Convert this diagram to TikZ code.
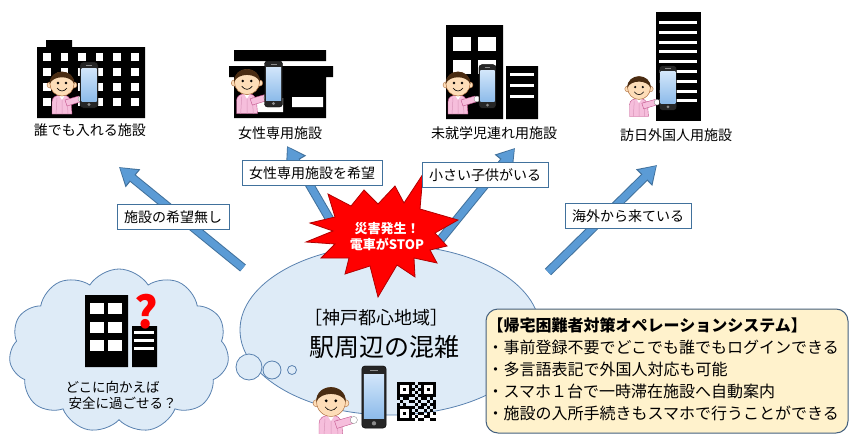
\documentclass[tikz,border=0pt]{standalone}
\usepackage{fontspec}
\setmainfont{Noto Sans CJK JP}
\usepackage{tikz}
\usetikzlibrary{positioning, shapes.geometric, shapes.symbols, arrows.meta, calc}

\definecolor{arrowblue}{HTML}{5B9BD5}
\definecolor{arrowline}{HTML}{41719C}
\definecolor{mist}{HTML}{DEEBF7}
\definecolor{mistline}{HTML}{5A82B0}
\definecolor{cream}{HTML}{FFF2CC}
\definecolor{creamline}{HTML}{44607E}
\definecolor{alarm}{HTML}{FF0000}
\definecolor{alarmline}{HTML}{B00000}
\definecolor{skin}{HTML}{FDDDB8}
\definecolor{skinline}{HTML}{B07040}
\definecolor{hair}{HTML}{4A2C12}
\definecolor{shirt}{HTML}{F6BEDC}
\definecolor{shirtline}{HTML}{C0508A}
\definecolor{screentop}{HTML}{D2E6FA}
\definecolor{screenbot}{HTML}{8DBBEA}

\tikzset{
  % little guide figure, origin at the centre of the head
  guide/.pic={
    \filldraw[fill=shirt, draw=shirtline, line width=.4pt]
      (-10,30) -- (-10,18) .. controls (-10,13) and (-6,11) .. (0,11)
      .. controls (5,11) and (8,13) .. (9,18) -- (10,30) -- cycle;
    \draw[shirtline!60, line width=.5pt] (-5,14) -- (-6,30) (0,13) -- (0,30) (5,14) -- (6,30);
    \fill[white] (-3,11) -- (3,11) -- (0,16) -- cycle;
    \filldraw[fill=shirt, draw=shirtline, line width=.4pt] (3,16) -- (17,12) -- (18,18) -- (5,22) -- cycle;
    \filldraw[fill=white, draw=black!50, line width=.3pt] (19,15) circle (3);
    \filldraw[fill=skin, draw=skinline, line width=.4pt] (-12,1) circle (3) (12,1) circle (3);
    \filldraw[fill=skin, draw=skinline, line width=.5pt] (0,0) circle (12);
    \fill[hair] (-12.3,0) .. controls (-13,-16.5) and (13,-16.5) .. (12.3,0)
      .. controls (9,-9) and (-9,-9) .. (-12.3,0) -- cycle;
    \fill (-4,-1) circle (1.3) (4,-1) circle (1.3);
    \draw[line width=.6pt] (-5,4) .. controls (-2,8) and (2,8) .. (5,4);
  },
  % smartphone, origin at its centre
  handset/.pic={
    \filldraw[fill=black!85, draw=black, rounded corners=3pt] (-9,-23) rectangle (9,23);
    \shade[top color=screentop, bottom color=screenbot] (-7.5,-17) rectangle (7.5,16);
    \fill[black!45] (0,19.5) circle (1.6);
    \draw[black!45, line width=.8pt] (-3,-20) -- (3,-20);
  }
}

\begin{document}
\begin{tikzpicture}[x=1pt, y=-1pt, >=Stealth,
    fat/.style={line width=7pt, draw=arrowblue, -{Triangle[length=15.5pt,width=18pt]}, shorten >=1.3pt,
      preaction={draw=arrowline, line width=9pt, -{Triangle[length=18pt,width=22pt]}, shorten >=0pt}},
    tag/.style={draw=arrowline, fill=white, line width=.8pt, font=\fontsize{14}{16}\selectfont,
      inner xsep=7pt, minimum height=25pt},
    place/.style={font=\fontsize{14}{16}\selectfont},
    bubble/.style={circle, draw=mistline, fill=mist, line width=.8pt, inner sep=0pt}]
  \useasboundingbox (0,0) rectangle (852,434);

  % arrows out of the crowd
  \coordinate (from-any) at (243,268);    \coordinate (to-any) at (119,167);
  \coordinate (from-women) at (343,242);  \coordinate (to-women) at (287,146);
  \coordinate (from-kids) at (428,255);   \coordinate (to-kids) at (515,148);
  \coordinate (from-abroad) at (548,272); \coordinate (to-abroad) at (657,165);
  \foreach \dest in {any, women, kids, abroad}
    \draw[fat] (from-\dest) -- (to-\dest);

  % crowd at the station and the worried cloud
  \node[ellipse, draw=mistline, fill=mist, line width=.8pt, minimum width=300pt, minimum height=170pt] (crowd) at (390,330) {};
  \node[cloud, cloud puffs=11, cloud puff arc=115, cloud ignores aspect, draw=mistline, fill=mist, line width=.8pt,
    minimum width=220pt, minimum height=164pt] (worry) at (119,351) {};
  \node[bubble, minimum size=26pt] (b1) at (249,367) {};
  \node[bubble, minimum size=18pt] (b2) at (272,370) {};
  \node[bubble, minimum size=9pt] (b3) at (292,370) {};

  % alarm burst
  \filldraw[fill=alarm, draw=alarmline, line width=.8pt]
    (310,223) -- (335,217) -- (328,194) -- (351,206) -- (364,190) -- (378,204) -- (395,186)
    -- (404,203) -- (423,174) -- (420,209) -- (458,220) -- (435,233) -- (447,246) -- (430,250)
    -- (437,263) -- (414,258) -- (415,277) -- (397,265) -- (378,297) -- (370,266) -- (345,274)
    -- (349,258) -- (321,258) -- (335,244) -- (306,242) -- (333,231) -- cycle;
  \node[align=center, text=white, font=\fontsize{13}{16}\selectfont\bfseries] (alert) at (387,237) {災害発生！\\電車がSTOP};

  % reasons
  \node[tag] (why-any) at (173,217) {施設の希望無し};
  \node[tag] (why-women) at (312,173) {女性専用施設を希望};
  \node[tag] (why-kids) at (485,175) {小さい子供がいる};
  \node[tag] (why-abroad) at (628,216) {海外から来ている};

  % open to anyone
  \fill (46,40) rectangle (72,48) (37,47) rectangle (145,118);
  \foreach \c in {0,...,5} \foreach \r in {0,...,3}
    \fill[white] (43+\c*17.6,53+\r*15) rectangle +(7.5,8);
  \node[place] (bld-any) at (90,130) {誰でも入れる施設};

  % women only
  \fill (234,50) rectangle (326,61) (229,66) rectangle (333,77) (234,77) rectangle (326,118);
  \fill[white] (243,98) rectangle (283,112) (292,97) rectangle (323,107);
  \node[place] (bld-women) at (280,133) {女性専用施設};

  % with small children
  \fill (446,25) rectangle (503,119) (506,66) rectangle (538,119);
  \foreach \c in {0,1} \foreach \r in {0,1}
    \fill[white] (453+\c*25,37+\r*23) rectangle +(18,14);
  \foreach \r in {0,1,2}
    \fill[white] (510,73+\r*11) rectangle +(24,3);
  \node[place] (bld-kids) at (494,133) {未就学児連れ用施設};

  % visitors from abroad
  \fill (656,12) rectangle (701,121);
  \foreach \r in {0,...,8}
    \fill[white] (659,21+\r*9.8) rectangle +(38,3);
  \node[place] (bld-abroad) at (676,135) {訪日外国人用施設};

  % guides with phones
  \pic at (62,84) {guide};              \pic at (89,85) {handset};
  \pic[scale=1.05] at (247,82) {guide}; \pic at (273.5,84) {handset};
  \pic at (458,84) {guide};             \pic[scale=.95] at (487.5,86.5) {handset};
  \pic[scale=.95] at (639,88) {guide};  \pic[scale=.97] at (668,88) {handset};
  \pic[scale=1.2] at (331,402) {guide}; \pic[scale=1.35] at (374,397) {handset};

  % where to go?
  \fill (85,295) rectangle (128,367) (132,326) rectangle (157,367);
  \foreach \c in {0,1} \foreach \r in {0,1,2}
    \fill[white] (90+\c*18,303+\r*18.5) rectangle +(13.5,11);
  \foreach \r in {0,1,2}
    \fill[white] (134,331+\r*8) rectangle +(20,2.5);
  \node[text=red, font=\fontsize{44}{44}\selectfont\bfseries] (what) at (146,312) {?};
  \node[anchor=west, font=\fontsize{13.5}{16}\selectfont] (ask) at (62,387) {どこに向かえば};
  \node[anchor=west, font=\fontsize{13.5}{16}\selectfont] (ask2) at (65,403) {安全に過ごせる？};

  % station area
  \node[font=\fontsize{18}{20}\selectfont] (area) at (376,318) {［神戸都心地域］};
  \node[font=\fontsize{25}{28}\selectfont] (jam) at (384,347) {駅周辺の混雑};

  % QR code
  \begin{scope}[shift={(397,382)}]
    \foreach \fx/\fy in {0/0, 8/0, 0/8} {
      \fill (\fx*3,\fy*3) rectangle +(15,15);
      \fill[white] (\fx*3+3,\fy*3+3) rectangle +(9,9);
      \fill (\fx*3+6,\fy*3+6) rectangle +(3,3);
    }
    \foreach \x/\y in {5/0,7/0,6/1,5/2,7/2,6/3,5/4,7/4,0/5,2/5,3/5,6/5,8/5,9/5,11/5,1/6,4/6,5/6,7/6,
        10/6,12/6,0/7,2/7,6/7,8/7,9/7,11/7,12/7,5/8,7/8,8/8,10/8,12/8,6/9,9/9,11/9,5/10,7/10,
        8/10,10/10,12/10,6/11,9/11,10/11,5/12,7/12,8/12,11/12,12/12}
      \fill (\x*3,\y*3) rectangle +(3,3);
  \end{scope}

  % system summary
  \node[draw=creamline, fill=cream, rounded corners=12pt, line width=1pt, minimum width=362pt,
    minimum height=124pt] (system) at (667,371) {};
  \node[anchor=north west, align=left, inner sep=0pt, font=\fontsize{16}{22}\selectfont]
    (system-text) at ([xshift=2pt, yshift=-9pt]system.north west)
    {\textbf{【帰宅困難者対策オペレーションシステム】}\\
     ・事前登録不要でどこでも誰でもログインできる\\
     ・多言語表記で外国人対応も可能\\
     ・スマホ１台で一時滞在施設へ自動案内\\
     ・施設の入所手続きもスマホで行うことができる};
\end{tikzpicture}
\end{document}
